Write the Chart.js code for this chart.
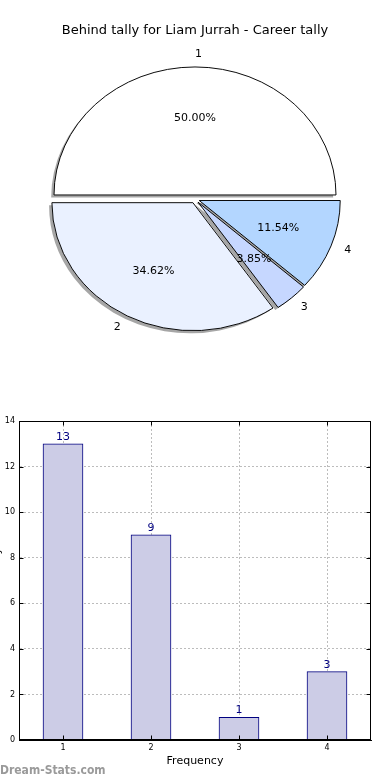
<!DOCTYPE html>
<html>
<head>
<meta charset="utf-8">
<script src="https://cdn.jsdelivr.net/npm/chart.js@4.4.1/dist/chart.umd.min.js"></script>
<style>
  html, body { margin: 0; padding: 0; background: #fff; }
  body { width: 390px; height: 780px; position: relative; overflow: hidden; }
  #pie-box { position: absolute; left: 0; top: 0; width: 390px; height: 350px; }
  #bar-box { position: absolute; left: 0; top: 400px; width: 390px; height: 380px; }
</style>
</head>
<body>
<div id="pie-box"><canvas id="chart-pie"></canvas></div>
<div id="bar-box"><canvas id="chart-bar"></canvas></div>
<script>
// ---- data ----
const categories = ['1', '2', '3', '4'];
const tally = [13, 9, 1, 3];
const sliceColors = ['#ffffff', '#eaf1ff', '#c6d7ff', '#b3d6ff'];
const yTicks = [0, 2, 4, 6, 8, 10, 12, 14];
const pieTitle = 'Behind tally for Liam Jurrah - Career tally';
const xTitle = 'Frequency';
const yTitle = 'Behind tally';
const watermark = 'Dream-Stats.com';

const FONT = "'DejaVu Sans', sans-serif";
Chart.defaults.font.family = FONT;
Chart.defaults.color = '#000';
Chart.defaults.animation = false;

const total = tally.reduce((a, b) => a + b, 0);
const pieRadius = 141;
const squash = 128 / 141;   // pie is drawn as an ellipse
const explode = 0.032;      // fraction of radius, every slice
const shadowShift = 0.02;

// draws the (exploded, shadowed, squashed) slices, then labels
const ellipsePie = {
  id: 'ellipsePie',
  beforeDatasetsDraw(chart) {
    const ctx = chart.ctx;
    const arcs = chart.getDatasetMeta(0).data;
    if (!arcs.length) return false;
    const cx = arcs[0].x, cy = arcs[0].y;
    ctx.save();
    ctx.translate(cx, cy);
    ctx.scale(1, squash);
    ctx.translate(-cx, -cy);

    // shadows under everything
    for (const a of arcs) {
      const h = (a.startAngle + a.endAngle) / 2;
      const r = a.outerRadius;
      const x = a.x + Math.cos(h) * explode * r - shadowShift * r;
      const y = a.y + Math.sin(h) * explode * r + shadowShift * r;
      ctx.beginPath();
      ctx.moveTo(x, y);
      ctx.arc(x, y, r, a.startAngle, a.endAngle);
      ctx.closePath();
      ctx.fillStyle = 'rgba(77,77,77,0.5)';
      ctx.fill();
    }
    for (const a of arcs) {
      const h = (a.startAngle + a.endAngle) / 2;
      const r = a.outerRadius;
      ctx.save();
      ctx.translate(Math.cos(h) * explode * r, Math.sin(h) * explode * r);
      a.draw(ctx);
      ctx.restore();
    }
    ctx.restore();
    return false;
  },
  afterDraw(chart) {
    const ctx = chart.ctx;
    const arcs = chart.getDatasetMeta(0).data;
    const n = arcs.length;
    ctx.save();
    ctx.font = `11px ${FONT}`;
    ctx.fillStyle = '#000';
    ctx.textBaseline = 'middle';
    arcs.forEach((a, i) => {
      const idx = n - 1 - i; // chart order is reversed
      const h = (a.startAngle + a.endAngle) / 2;
      const r = a.outerRadius;
      const px = f => a.x + Math.cos(h) * (explode + f) * r;
      const py = f => a.y + Math.sin(h) * (explode + f) * r * squash;
      ctx.textAlign = Math.cos(h) >= -1e-9 ? 'left' : 'right';
      ctx.fillText(categories[idx], px(1.1), py(1.1));
      ctx.textAlign = 'center';
      ctx.fillText((tally[idx] / total * 100).toFixed(2) + '%', px(0.6), py(0.6));
    });
    ctx.restore();
  }
};

new Chart(document.getElementById('chart-pie'), {
  type: 'pie',
  data: {
    labels: [...categories].reverse(),
    datasets: [{
      data: [...tally].reverse(),
      backgroundColor: [...sliceColors].reverse(),
      borderColor: '#000',
      borderWidth: 1,
      clip: false
    }]
  },
  options: {
    responsive: true,
    maintainAspectRatio: false,
    rotation: 90,
    radius: pieRadius,
    events: [],
    layout: { padding: 0 },
    plugins: {
      legend: { display: false },
      tooltip: { enabled: false },
      title: {
        display: true,
        text: pieTitle,
        color: '#000',
        font: { size: 13, weight: 'normal' },
        padding: { top: 22.5, bottom: 10 }
      }
    }
  },
  plugins: [ellipsePie]
});

// ---- bar chart helpers ----
const barValues = {
  id: 'barValues',
  afterDatasetsDraw(chart) {
    const ctx = chart.ctx;
    const bars = chart.getDatasetMeta(0).data;
    ctx.save();
    ctx.font = `11px ${FONT}`;
    ctx.fillStyle = '#000080';
    ctx.textAlign = 'center';
    ctx.textBaseline = 'alphabetic';
    bars.forEach((b, i) => ctx.fillText(String(tally[i]), b.x, b.y - 4));
    ctx.restore();
  }
};

const frame = {
  id: 'frame',
  afterDraw(chart) {
    const { ctx, chartArea: a, scales: { x, y } } = chart;
    const L = Math.round(a.left) + 0.5, R = Math.round(a.right) - 0.5;
    const T = Math.round(a.top) + 0.5, B = Math.round(a.bottom) - 0.5;
    ctx.save();
    ctx.strokeStyle = '#000';
    ctx.lineWidth = 1;
    ctx.strokeRect(L, T, R - L, B - T);
    ctx.beginPath();
    for (const v of yTicks) {
      const py = Math.round(y.getPixelForValue(v)) + 0.5;
      ctx.moveTo(L, py); ctx.lineTo(L + 4, py);
      ctx.moveTo(R, py); ctx.lineTo(R - 4, py);
    }
    categories.forEach((c, i) => {
      const px = Math.round(x.getPixelForValue(i)) + 0.5;
      ctx.moveTo(px, B); ctx.lineTo(px, B - 4);
      ctx.moveTo(px, T); ctx.lineTo(px, T + 4);
    });
    ctx.stroke();
    ctx.font = `bold 12px 'DejaVu Sans Condensed', ${FONT}`;
    ctx.fillStyle = '#9a9a9a';
    ctx.textAlign = 'left';
    ctx.textBaseline = 'alphabetic';
    ctx.fillText(watermark, 0, 373.5);
    ctx.restore();
  }
};

const gridStyle = { color: '#bcbcbc', lineWidth: 1, drawTicks: false };

new Chart(document.getElementById('chart-bar'), {
  type: 'bar',
  data: {
    labels: categories,
    datasets: [{
      data: tally,
      backgroundColor: '#ccccE6',
      borderColor: '#000080',
      borderWidth: 1,
      barThickness: 40
    }]
  },
  options: {
    responsive: true,
    maintainAspectRatio: false,
    events: [],
    layout: { padding: { left: 0, right: 19, top: 21, bottom: 0 } },
    plugins: { legend: { display: false }, tooltip: { enabled: false } },
    scales: {
      x: {
        z: 1,
        offset: true,
        grid: { ...gridStyle, offset: false },
        border: { color: '#000', dash: [2, 2] },
        ticks: { font: { size: 8 }, padding: 3, color: '#000' },
        title: { display: true, text: xTitle, font: { size: 11 }, padding: { top: 0, bottom: 12.4 } },
        afterFit(s) { s.height = 40; }
      },
      y: {
        z: 1,
        min: 0,
        max: 14,
        grid: gridStyle,
        border: { color: '#000', dash: [2, 2] },
        ticks: { font: { size: 8 }, padding: 4, color: '#000' },
        afterBuildTicks(s) { s.ticks = yTicks.map(v => ({ value: v })); },
        title: { display: true, text: yTitle, font: { size: 11 }, padding: { top: -9, bottom: 0 } },
        afterFit(s) { s.width = 19; }
      }
    }
  },
  plugins: [barValues, frame]
});
</script>
</body>
</html>
